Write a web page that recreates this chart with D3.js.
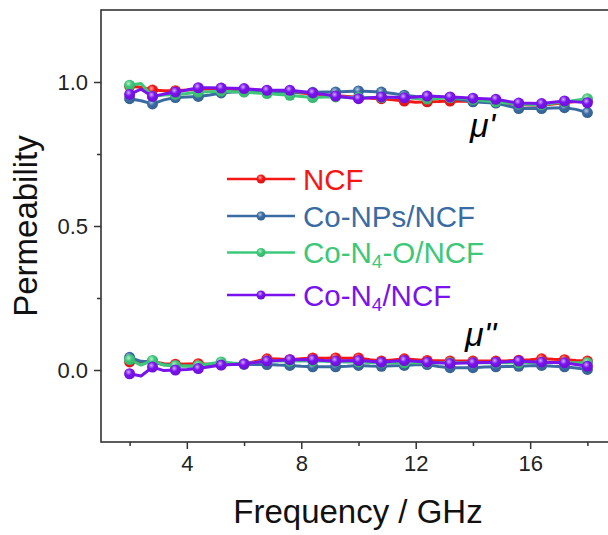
<!DOCTYPE html>
<html>
<head>
<meta charset="utf-8">
<script src="https://cdn.jsdelivr.net/npm/d3@7"></script>
<style>
  html, body { margin: 0; padding: 0; background: #fff; }
  svg { display: block; font-family: "Liberation Sans", Arial, sans-serif; }
</style>
</head>
<body>
<svg id="chart" width="608" height="535"></svg>
<script>
// frequency grid (GHz), 0.4 GHz step; markers on every other point
const freq = d3.range(41).map(i => +(2 + i * 0.4).toFixed(1));

// real part mu'
const muReal_NCF = [0.985,0.982,0.972,0.970,0.970,0.972,0.975,0.976,0.978,0.975,0.973,0.972,0.970,0.968,0.967,0.962,0.958,0.955,0.953,0.950,0.947,0.944,0.942,0.938,0.934,0.930,0.931,0.932,0.934,0.933,0.934,0.932,0.930,0.926,0.922,0.920,0.919,0.924,0.928,0.932,0.935];
const muReal_CoNPs = [0.942,0.935,0.924,0.938,0.946,0.948,0.950,0.955,0.962,0.965,0.967,0.966,0.966,0.965,0.964,0.964,0.964,0.965,0.965,0.967,0.969,0.967,0.965,0.960,0.954,0.950,0.948,0.946,0.945,0.938,0.931,0.929,0.927,0.917,0.908,0.909,0.908,0.910,0.911,0.905,0.894];
const muReal_CoN4O = [0.989,0.995,0.950,0.955,0.957,0.960,0.965,0.966,0.968,0.966,0.965,0.962,0.960,0.957,0.954,0.950,0.946,0.948,0.948,0.947,0.946,0.946,0.946,0.946,0.946,0.943,0.941,0.943,0.946,0.944,0.939,0.935,0.931,0.927,0.924,0.922,0.921,0.926,0.931,0.937,0.942];
const muReal_CoN4 = [0.957,0.975,0.950,0.958,0.965,0.972,0.980,0.980,0.979,0.978,0.977,0.974,0.971,0.971,0.971,0.967,0.962,0.957,0.951,0.946,0.942,0.945,0.948,0.947,0.945,0.948,0.951,0.950,0.948,0.946,0.944,0.942,0.940,0.933,0.927,0.926,0.925,0.930,0.934,0.931,0.928];

// imaginary part mu''
const muImag_NCF = [0.028,0.028,0.030,0.022,0.020,0.021,0.022,0.020,0.022,0.022,0.021,0.030,0.039,0.038,0.036,0.039,0.042,0.041,0.042,0.041,0.042,0.036,0.031,0.035,0.039,0.036,0.033,0.032,0.031,0.031,0.031,0.031,0.031,0.032,0.034,0.036,0.039,0.037,0.036,0.033,0.031];
const muImag_CoNPs = [0.044,0.030,0.028,0.018,0.015,0.014,0.013,0.015,0.018,0.019,0.020,0.019,0.019,0.017,0.016,0.013,0.011,0.011,0.011,0.013,0.016,0.014,0.013,0.015,0.016,0.018,0.019,0.012,0.008,0.008,0.008,0.010,0.011,0.012,0.013,0.015,0.016,0.013,0.011,0.007,0.002];
const muImag_CoN4O = [0.036,0.017,0.033,0.017,0.015,0.014,0.015,0.022,0.028,0.024,0.021,0.026,0.031,0.031,0.031,0.031,0.031,0.030,0.029,0.028,0.028,0.026,0.025,0.025,0.025,0.025,0.025,0.025,0.025,0.025,0.025,0.025,0.025,0.025,0.025,0.026,0.027,0.026,0.025,0.025,0.025];
const muImag_CoN4 = [-0.013,-0.021,0.010,-0.002,0.000,0.002,0.005,0.011,0.017,0.019,0.021,0.026,0.031,0.033,0.036,0.036,0.036,0.033,0.031,0.032,0.033,0.030,0.027,0.030,0.033,0.030,0.027,0.025,0.023,0.024,0.025,0.026,0.027,0.029,0.031,0.029,0.027,0.026,0.025,0.019,0.013];

const sampleNames = ["NCF", "Co-NPs/NCF", "Co-N4-O/NCF", "Co-N4/NCF"];
const sampleColors = ["#f51616", "#3a6ca3", "#3cc878", "#7a12ee"];
const realSeries = [muReal_NCF, muReal_CoNPs, muReal_CoN4O, muReal_CoN4];
const imagSeries = [muImag_NCF, muImag_CoNPs, muImag_CoN4O, muImag_CoN4];

const xMajorTicks = [4, 8, 12, 16];
const xMinorTicks = [2, 6, 10, 14, 18];
const yMajorTicks = [0, 0.5, 1.0];
const yMinorTicks = [0.25, 0.75];

const svg = d3.select("#chart");
const plot = { left: 101, right: 616, top: 10, bottom: 442 };

const x = d3.scaleLinear().domain([1, 19]).range([plot.left, plot.right]);
const y = d3.scaleLinear().domain([-0.25, 1.25]).range([plot.bottom, plot.top]);

// ball-style marker gradients
const defs = svg.append("defs");
sampleColors.forEach((c, i) => {
    const g = defs.append("radialGradient")
        .attr("id", "ball" + i)
        .attr("cx", "40%").attr("cy", "35%").attr("r", "65%");
    g.append("stop").attr("offset", "0%").attr("stop-color", d3.interpolateRgb(c, "#fff")(0.65));
    g.append("stop").attr("offset", "45%").attr("stop-color", c);
    g.append("stop").attr("offset", "100%").attr("stop-color", d3.color(c).darker(0.3));
});

// axes
const axisColor = "#333";
function styleAxis(g) {
    g.select(".domain").remove();
    g.selectAll(".tick line").attr("stroke", axisColor).attr("stroke-width", 1.5);
    g.selectAll(".tick text").attr("fill", "#222").style("font-size", "22px");
}

svg.append("g")
    .attr("transform", `translate(0,${plot.bottom})`)
    .call(d3.axisBottom(x).tickValues(xMajorTicks).tickSize(7).tickPadding(6).tickFormat(d3.format("d")))
    .call(styleAxis);
svg.append("g")
    .attr("transform", `translate(0,${plot.bottom})`)
    .call(d3.axisBottom(x).tickValues(xMinorTicks).tickSize(4).tickFormat(""))
    .call(styleAxis);
svg.append("g")
    .attr("transform", `translate(${plot.left},0)`)
    .call(d3.axisLeft(y).tickValues(yMajorTicks).tickSize(7).tickPadding(6).tickFormat(d3.format(".1f")))
    .call(styleAxis);
svg.append("g")
    .attr("transform", `translate(${plot.left},0)`)
    .call(d3.axisLeft(y).tickValues(yMinorTicks).tickSize(4).tickFormat(""))
    .call(styleAxis);

// frame
svg.append("rect")
    .attr("x", plot.left).attr("y", plot.top)
    .attr("width", plot.right - plot.left).attr("height", plot.bottom - plot.top)
    .attr("fill", "none").attr("stroke", axisColor).attr("stroke-width", 1.6);

// axis titles
svg.append("text")
    .attr("x", 358).attr("y", 523)
    .attr("text-anchor", "middle")
    .style("font-size", "33px").attr("fill", "#111")
    .text("Frequency / GHz");
svg.append("text")
    .attr("transform", "translate(37,226) rotate(-90)")
    .attr("text-anchor", "middle")
    .style("font-size", "33px").attr("fill", "#111")
    .text("Permeability");

// curves
const line = d3.line().x((d, i) => x(freq[i])).y(d => y(d));
const layer = svg.append("g");

function drawSeries(values, i) {
    layer.append("path")
        .datum(values)
        .attr("d", line)
        .attr("fill", "none")
        .attr("stroke", sampleColors[i])
        .attr("stroke-width", 3)
        .attr("stroke-linejoin", "round");
    layer.append("g").selectAll("circle")
        .data(values.map((v, j) => ({ f: freq[j], v })).filter((d, j) => j % 2 === 0))
        .join("circle")
        .attr("cx", d => x(d.f))
        .attr("cy", d => y(d.v))
        .attr("r", 5.5)
        .attr("fill", `url(#ball${i})`);
}
sampleNames.forEach((n, i) => {
    drawSeries(realSeries[i], i);
    drawSeries(imagSeries[i], i);
});

// mu labels
svg.append("text")
    .attr("x", 470).attr("y", 137)
    .style("font-size", "34px").style("font-style", "italic").attr("fill", "#000")
    .text("\u03bc'");
svg.append("text")
    .attr("x", 465).attr("y", 346)
    .style("font-size", "34px").style("font-style", "italic").attr("fill", "#000")
    .text("\u03bc''");

// legend
const legendRows = [179, 216, 252.5, 295];
const legend = svg.append("g");
sampleNames.forEach((name, i) => {
    const ry = legendRows[i];
    legend.append("line")
        .attr("x1", 227).attr("x2", 295).attr("y1", ry).attr("y2", ry)
        .attr("stroke", sampleColors[i]).attr("stroke-width", 2.6);
    legend.append("circle")
        .attr("cx", 261).attr("cy", ry).attr("r", 4.5)
        .attr("fill", `url(#ball${i})`);
    const t = legend.append("text")
        .attr("x", 303).attr("y", ry + 10.5)
        .style("font-size", "29.5px").attr("fill", sampleColors[i]);
    const m = name.match(/^(Co-N)4(.*)$/);
    if (m) {
        t.append("tspan").text(m[1]);
        t.append("tspan").attr("dy", 5).style("font-size", "19px").text("4");
        t.append("tspan").attr("dy", -5).text(m[2]);
    } else {
        t.text(name);
    }
});
</script>
</body>
</html>
